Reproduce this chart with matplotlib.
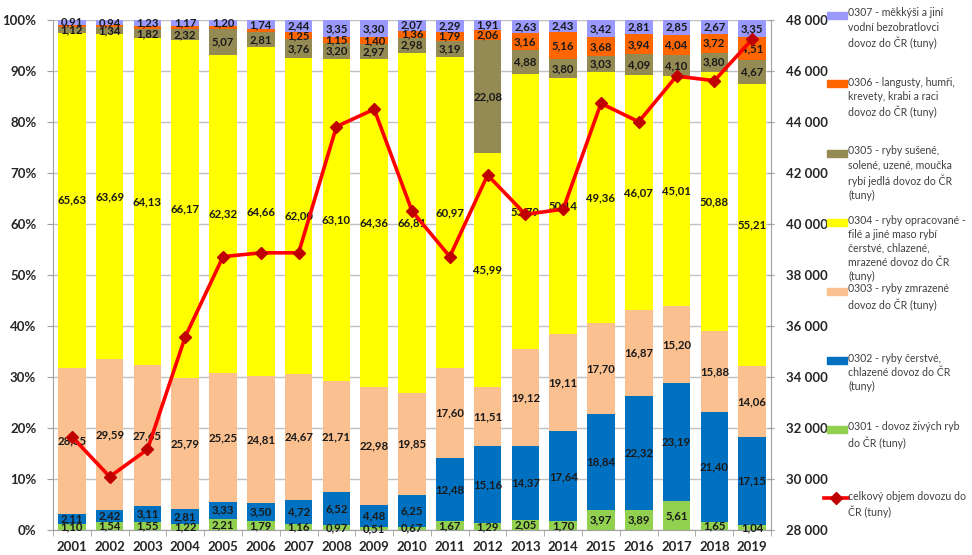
import matplotlib
matplotlib.use("Agg")
import matplotlib.pyplot as plt
from matplotlib.patches import Rectangle
from matplotlib.lines import Line2D
from matplotlib.ticker import FuncFormatter, MultipleLocator
import numpy as np

plt.rcParams['font.family'] = ['Lato', 'DejaVu Sans']

years = ["2001", "2002", "2003", "2004", "2005", "2006", "2007", "2008", "2009", "2010",
         "2011", "2012", "2013", "2014", "2015", "2016", "2017", "2018", "2019"]

s0301 = [1.10, 1.54, 1.55, 1.22, 2.21, 1.79, 1.16, 0.97, 0.51, 0.67,
         1.67, 1.29, 2.05, 1.70, 3.97, 3.89, 5.61, 1.65, 1.04]
s0302 = [2.11, 2.42, 3.11, 2.81, 3.33, 3.50, 4.72, 6.52, 4.48, 6.25,
         12.48, 15.16, 14.37, 17.64, 18.84, 22.32, 23.19, 21.40, 17.15]
s0303 = [28.65, 29.59, 27.65, 25.79, 25.25, 24.81, 24.67, 21.71, 22.98, 19.85,
         17.60, 11.51, 19.12, 19.11, 17.70, 16.87, 15.20, 15.88, 14.06]
s0304 = [65.63, 63.69, 64.13, 66.17, 62.32, 64.66, 62.00, 63.10, 64.36, 66.81,
         60.97, 45.99, 53.79, 50.14, 49.36, 46.07, 45.01, 50.88, 55.21]
s0305 = [1.12, 1.34, 1.82, 2.32, 5.07, 2.81, 3.76, 3.20, 2.97, 2.98,
         3.19, 22.08, 4.88, 3.80, 3.03, 4.09, 4.10, 3.80, 4.67]
s0306 = [0.48, 0.48, 0.51, 0.52, 0.62, 0.69, 1.25, 1.15, 1.40, 1.36,
         1.79, 2.06, 3.16, 5.16, 3.68, 3.94, 4.04, 3.72, 4.51]
s0307 = [0.91, 0.94, 1.23, 1.17, 1.20, 1.74, 2.44, 3.35, 3.30, 2.07,
         2.29, 1.91, 2.63, 2.43, 3.42, 2.81, 2.85, 2.67, 3.35]
total = [31660, 30090, 31160, 35580, 38720, 38870, 38870, 43820, 44500, 40510,
         38720, 41920, 40380, 40580, 44730, 44010, 45800, 45620, 47240]

# 0306 labels hidden for the first six years (not shown in the original)
show0306 = [False] * 6 + [True] * 13

series = [
    ("0301 - dovoz živých ryb\ndo ČR (tuny)", s0301, "#92D050", None),
    ("0302 - ryby čerstvé,\nchlazené dovoz do ČR\n(tuny)", s0302, "#0070C0", None),
    ("0303 - ryby zmrazené\ndovoz do ČR (tuny)", s0303, "#FAC090", None),
    ("0304 - ryby opracované -\nfilé a jiné maso rybí\nčerstvé, chlazené,\nmrazené dovoz do ČR\n(tuny)", s0304, "#FFFF00", None),
    ("0305 - ryby sušené,\nsolené, uzené, moučka\nrybí jedlá dovoz do ČR\n(tuny)", s0305, "#948A54", None),
    ("0306 - langusty, humři,\nkrevety, krabi a raci\ndovoz do ČR (tuny)", s0306, "#FF6600", show0306),
    ("0307 - měkkýši a jiní\nvodní bezobratlovci\ndovoz do ČR (tuny)", s0307, "#9999FF", None),
]
line_label = "celkový objem dovozu do\nČR (tuny)"

fig = plt.figure(figsize=(9.72, 5.55), dpi=100)
ax = fig.add_axes([53 / 972, 1 - 530 / 555, (771 - 53) / 972, 510 / 555])
x = np.arange(len(years))
bottom = np.zeros(len(years))
for name, vals, col, show in series:
    v = np.array(vals)
    ax.bar(x, v, bottom=bottom, width=0.73, color=col, edgecolor='none', zorder=2)
    for i in range(len(years)):
        if show is not None and not show[i]:
            continue
        ax.text(x[i], bottom[i] + v[i] / 2, f"{v[i]:.2f}".replace(".", ","),
                ha='center', va='center', fontsize=8.2, fontweight='bold',
                color='#1a1a1a', zorder=5)
    bottom += v

ax.set_xlim(-0.5, len(years) - 0.5)
ax.set_ylim(0, 100)
ax.yaxis.set_major_locator(MultipleLocator(10))
ax.yaxis.set_major_formatter(FuncFormatter(lambda v, p: f"{int(round(v))}%"))
ax.grid(axis='y', color='#c0c0c0', linewidth=1.0, zorder=0)
ax.set_axisbelow(True)
ax.set_xticks(x)
ax.set_xticklabels(years)
ax.set_xticks(np.arange(-0.5, len(years), 1), minor=True)
ax.tick_params(axis='x', which='major', length=0, pad=8, labelsize=9.5)
ax.tick_params(axis='x', which='minor', length=4, color='#a0a0a0')
ax.tick_params(axis='y', length=4, color='#a0a0a0', labelsize=9.5, pad=8)
for lab in ax.get_xticklabels() + ax.get_yticklabels():
    lab.set_fontweight('bold')
    lab.set_color('#262626')
for sp in ['top', 'right']:
    ax.spines[sp].set_visible(False)
for sp in ['left', 'bottom']:
    ax.spines[sp].set_color('#a0a0a0')

ax2 = ax.twinx()
ax2.set_ylim(28000, 48000)
ax2.yaxis.set_major_locator(MultipleLocator(2000))
ax2.yaxis.set_major_formatter(FuncFormatter(lambda v, p: f"{int(v):,}".replace(",", " ")))
ax2.plot(x, total, color='#FF0000', linewidth=2.6, marker='D', markersize=6.5,
         markerfacecolor='#C00000', markeredgecolor='#C00000', zorder=6)
ax2.tick_params(axis='y', length=5, direction='inout', color='#a0a0a0', labelsize=9.5, pad=8)
for lab in ax2.get_yticklabels():
    lab.set_fontweight('bold')
    lab.set_color('#262626')
for sp in ['top', 'left', 'bottom']:
    ax2.spines[sp].set_visible(False)
ax2.spines['right'].set_color('#a0a0a0')

# legend (manual layout, top to bottom)
W, H = 972, 555
entries = [(s[0], s[2]) for s in series][::-1]
y0 = 15
step = 69
for k, (name, col) in enumerate(entries):
    yc = y0 + k * step
    fig.add_artist(Rectangle((827 / W, 1 - (yc + 3.5) / H), 20 / W, 7 / H,
                             transform=fig.transFigure, color=col))
    fig.text(848 / W, 1 - (yc - 7.5) / H, name, ha='left', va='top',
             fontsize=7.6, color='#404040', linespacing=1.35)
yc = y0 + len(entries) * step
fig.add_artist(Line2D([824 / W, 848 / W], [1 - yc / H] * 2, transform=fig.transFigure,
                      color='#FF0000', linewidth=2.6))
fig.add_artist(Line2D([836 / W], [1 - yc / H], transform=fig.transFigure, marker='D',
                      markersize=6, color='#C00000'))
fig.text(848 / W, 1 - (yc - 7.5) / H, line_label, ha='left', va='top',
         fontsize=7.6, color='#404040', linespacing=1.35)

fig.savefig("out.png", dpi=100)
